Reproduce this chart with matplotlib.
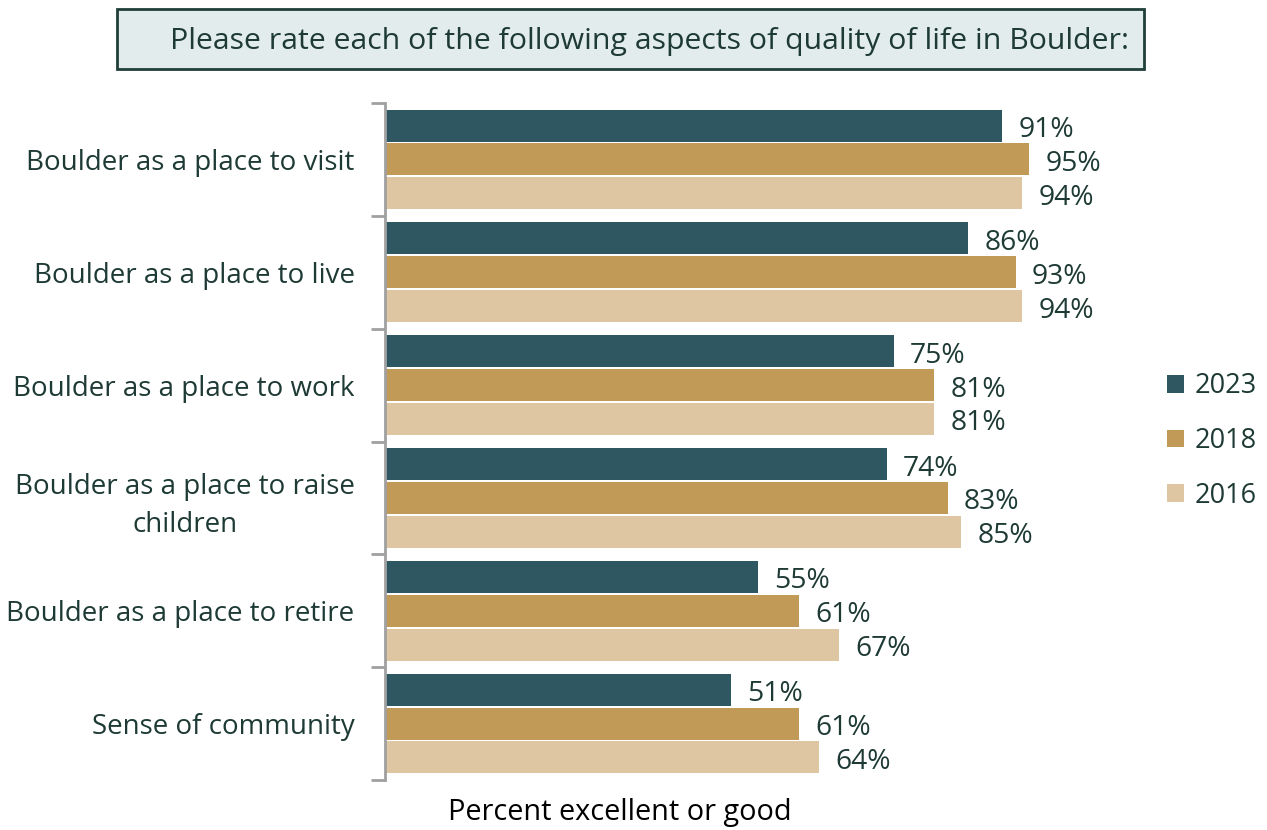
import matplotlib.pyplot as plt
from matplotlib.patches import FancyBboxPatch, Patch
import numpy as np

plt.rcParams['font.family'] = ['Open Sans', 'DejaVu Sans']

categories = ["Boulder as a place to visit", "Boulder as a place to live",
              "Boulder as a place to work", "Boulder as a place to raise\nchildren",
              "Boulder as a place to retire", "Sense of community"]
years = ["2023", "2018", "2016"]
vals_2023 = [91, 86, 75, 74, 55, 51]
vals_2018 = [95, 93, 81, 83, 61, 61]
vals_2016 = [94, 94, 81, 85, 67, 64]

colors = ["#2F5761", "#C29A58", "#DFC6A2"]
text_col = "#1E3A35"

fig = plt.figure(figsize=(12.67, 8.3), dpi=100)
ax = fig.add_axes([0.304, 0.0602, 0.535, 0.8157])

y = np.arange(len(categories))
h = 0.283
step = 0.30
for k, (vals, c) in enumerate(zip([vals_2023, vals_2018, vals_2016], colors)):
    pos = y + (k - 1) * step
    ax.barh(pos, vals, height=h, color=c, label=years[k])
    for p, v in zip(pos, vals):
        ax.text(v + 2.4, p + 0.04, f"{v}%", va="center", ha="left",
                fontsize=20.3, color=text_col)

ax.set_xlim(0, 100)
ax.set_ylim(len(categories) - 0.5, -0.5)
ax.set_xticks([])
ax.set_yticks(y)
ax.set_yticklabels(categories, fontsize=20, color=text_col, linespacing=1.45)
for lab in ax.get_yticklabels():
    lab.set_multialignment("center")
ax.tick_params(axis="y", which="major", length=0, pad=22)
ax.set_yticks(np.arange(-0.5, len(categories)), minor=True)
ax.tick_params(axis="y", which="minor", length=10, width=2, color="#A0A0A0")
for s in ["top", "right", "bottom"]:
    ax.spines[s].set_visible(False)
ax.spines["left"].set_color("#A0A0A0")
ax.spines["left"].set_linewidth(2)

# title banner
box = FancyBboxPatch((117 / 1267, 1 - 69 / 830), (1144 - 117) / 1267, 60 / 830,
                     boxstyle="square,pad=0", transform=fig.transFigure,
                     facecolor="#E2ECEC", edgecolor="#1F3F38", linewidth=2)
fig.patches.append(box)
fig.text(649 / 1267, 1 - 42 / 830,
         "Please rate each of the following aspects of quality of life in Boulder:",
         ha="center", va="center", fontsize=21.8, color=text_col)

fig.text(620 / 1267, 1 - 812 / 830, "Percent excellent or good",
         ha="center", va="center", fontsize=20.8, color="black")

handles = [Patch(facecolor=c, label=yr) for c, yr in zip(colors, years)]
fig.legend(handles=handles, loc="center left", bbox_to_anchor=(1143 / 1267, 1 - 441 / 830),
           frameon=False, fontsize=19.5, labelcolor=text_col, handlelength=0.6,
           handleheight=0.6, handletextpad=0.4, labelspacing=0.98)

fig.savefig("out.png", dpi=100)
